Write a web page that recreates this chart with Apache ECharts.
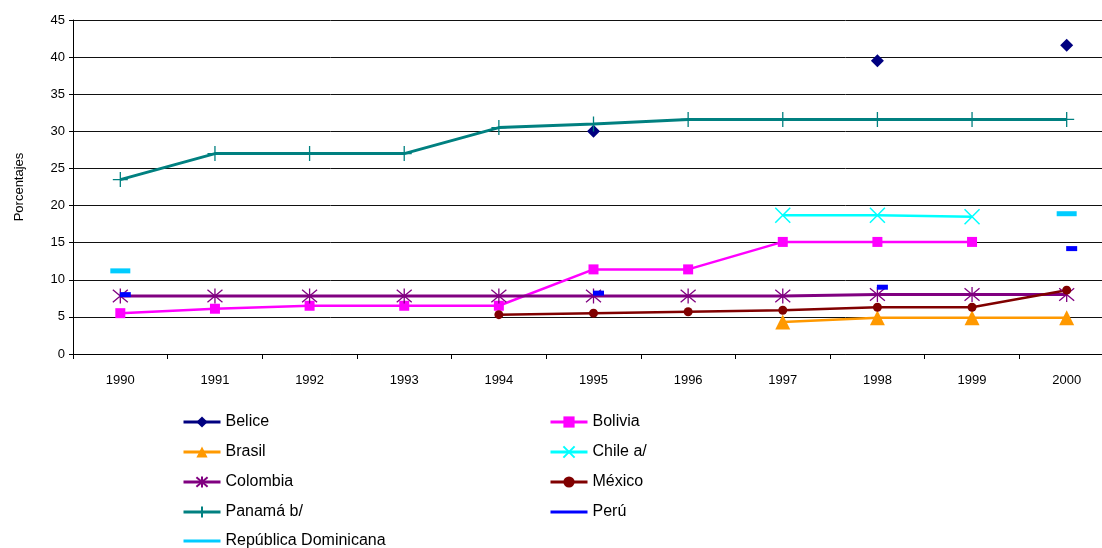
<!DOCTYPE html>
<html>
<head>
<meta charset="utf-8">
<script src="https://cdn.jsdelivr.net/npm/echarts@6/dist/echarts.min.js"></script>
<style>
  html, body { margin: 0; padding: 0; background: #fff; }
  #chart { width: 1102px; height: 548px; }
</style>
</head>
<body>
<div id="chart"></div>
<script>
// años
var years = ['1990', '1991', '1992', '1993', '1994', '1995', '1996', '1997', '1998', '1999', '2000'];
var yTicks = [0, 5, 10, 15, 20, 25, 30, 35, 40, 45];

// series (null = sin dato)
var belice    = [null, null, null, null, null, 30, null, null, 39.5, null, 41.6];
var bolivia   = [5.5, 6.1, 6.5, 6.5, 6.5, 11.4, 11.4, 15.1, 15.1, 15.1, null];
var brasil    = [null, null, null, null, null, null, null, 4.3, 4.9, 4.9, 4.9];
var chile     = [null, null, null, null, null, null, null, 18.7, 18.7, 18.5, null];
var colombia  = [7.8, 7.8, 7.8, 7.8, 7.8, 7.8, 7.8, 7.8, 8.0, 8.0, 8.0];
var mexico    = [null, null, null, null, 5.3, 5.5, 5.7, 5.9, 6.3, 6.3, 8.6];
var panama    = [23.5, 27, 27, 27, 30.5, 31, 31.6, 31.6, 31.6, 31.6, 31.6];
var peru      = [8.0, null, null, null, null, 8.2, null, null, 9.0, null, 14.2];
var repDom    = [11.2, null, null, null, null, null, null, null, null, null, 18.9];

var FONT = '"Liberation Sans", Arial, sans-serif';

function serie(name, data, color, symbol, size, width, extra) {
  var s = {
    name: name,
    type: 'line',
    data: data,
    symbol: symbol,
    symbolSize: size,
    showAllSymbol: true,
    connectNulls: false,
    animation: false,
    color: color,
    lineStyle: { color: color, width: width },
    itemStyle: { color: color }
  };
  for (var k in extra) s[k] = extra[k];
  return s;
}

var stroke = function (c, w) { return { color: c, borderColor: c, borderWidth: w }; };

// leyenda en dos columnas
function leyenda(names, left, top) {
  return {
    orient: 'vertical',
    left: left, top: top,
    padding: 0,
    itemWidth: 37, itemHeight: 14, itemGap: 14,
    lineStyle: { width: 3 },
    textStyle: { fontSize: 16, color: '#000', fontFamily: FONT },
    data: names
  };
}

var myChart = echarts.init(document.getElementById('chart'));
myChart.setOption({
  backgroundColor: '#fff',
  textStyle: { fontFamily: FONT },
  // el área de trazado sobrepasa el borde derecho, como en el original
  grid: { left: 73, width: 1041, top: 20, bottom: 194, outerBoundsMode: 'none', containLabel: false },
  legend: [
    leyenda(['Belice', 'Brasil', 'Colombia', 'Panamá b/'], 182, 414),
    leyenda([{ name: 'República Dominicana', itemStyle: { opacity: 0 } }], 182, 533),
    leyenda(['Bolivia', 'Chile a/', 'México', { name: 'Perú', itemStyle: { opacity: 0 } }], 549, 414)
  ],
  xAxis: {
    type: 'category',
    data: years,
    boundaryGap: true,
    axisLine: { lineStyle: { color: '#000', width: 1 } },
    axisTick: { show: true, length: 5, lineStyle: { color: '#000' } },
    axisLabel: { color: '#000', fontSize: 13, margin: 20, fontFamily: FONT }
  },
  yAxis: {
    type: 'value',
    min: 0, max: 45, interval: 5,
    name: 'Porcentajes',
    nameLocation: 'middle',
    nameGap: 47,
    nameTextStyle: { color: '#000', fontSize: 13, fontFamily: FONT },
    axisLine: { show: true, lineStyle: { color: '#000', width: 1 } },
    axisTick: { show: true, length: 4, lineStyle: { color: '#000' } },
    axisLabel: { color: '#000', fontSize: 13, margin: 8, fontFamily: FONT,
      formatter: function (v) { return yTicks.indexOf(v) >= 0 ? String(v) : ''; } },
    splitLine: { show: true, lineStyle: { color: '#111', width: 1 } }
  },
  series: [
    serie('Belice', belice, '#000080', 'diamond', 13, 2, {}),
    serie('Bolivia', bolivia, '#FF00FF', 'rect', 10, 2.5, {}),
    serie('Brasil', brasil, '#FF9900', 'triangle', 15, 2.5, {}),
    serie('Chile a/', chile, '#00FFFF', 'path://M0,0L10,10M10,0L0,10', 15, 2.5,
      { itemStyle: stroke('#00FFFF', 1.5) }),
    serie('Colombia', colombia, '#800080', 'path://M0,0L10,10M10,0L0,10M5,-1L5,11', 15, 3,
      { itemStyle: stroke('#800080', 1.3) }),
    serie('México', mexico, '#800000', 'circle', 9, 2.5, {}),
    serie('Panamá b/', panama, '#008080', 'path://M5,0L5,10M0,5L10,5', 15, 3,
      { itemStyle: stroke('#008080', 1.3) }),
    serie('Perú', peru, '#0000FF', 'rect', [11, 5], 4, { symbolOffset: [5, 0] }),
    serie('República Dominicana', repDom, '#00CCFF', 'rect', [20, 5], 4, {})
  ]
});
</script>
</body>
</html>
